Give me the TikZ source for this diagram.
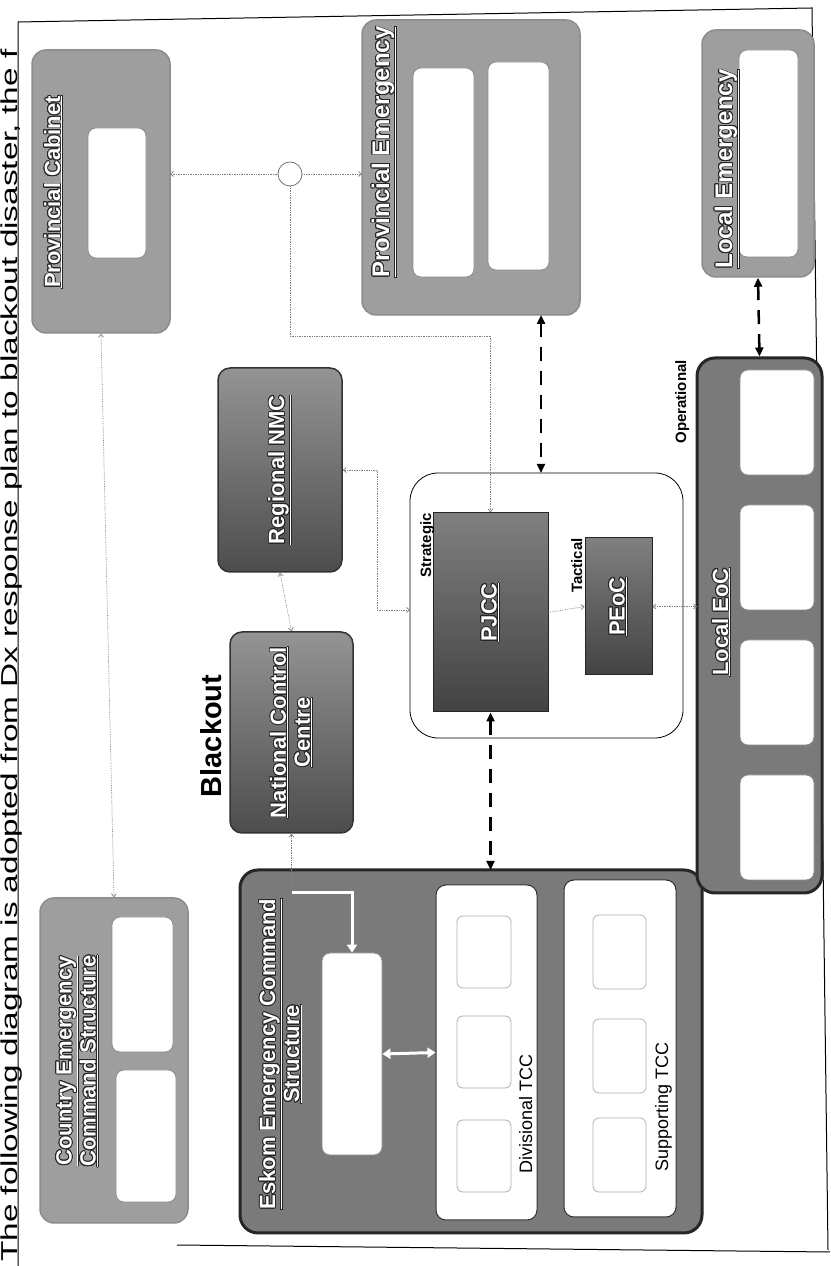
\documentclass[tikz,border=0pt]{standalone}
\usepackage{fontspec}
\setmainfont{Liberation Sans}
\usepackage{contour}
\contourlength{0.9pt}
\usetikzlibrary{arrows.meta}

\newcommand{\boxtitle}[1]{\contour{black!85}{\underline{#1}}}

\tikzset{
  dims/.style 2 args={minimum width=#1, minimum height=#2, inner sep=0pt},
  grpbox/.style={rectangle, rounded corners=14pt, draw=black!45, line width=1.5pt, fill=black!38},
  bigbox/.style={rectangle, rounded corners=18pt, draw=black!85, line width=3pt, fill=black!52},
  ctrbox/.style={rectangle, rounded corners=12pt, draw=black!80, line width=1.5pt, top color=black!42, bottom color=black!70},
  cmdbox/.style={rectangle, draw=black!85, line width=1pt, top color=black!50, bottom color=black!74},
  blankbox/.style={rectangle, rounded corners=8pt, draw=black!45, line width=0.8pt, fill=white},
  tccbox/.style={rectangle, rounded corners=10pt, draw=black!80, line width=1pt, fill=white},
  slotbox/.style={rectangle, rounded corners=6pt, draw=black!30, line width=0.8pt, fill=white},
  hub/.style={rectangle, rounded corners=28pt, draw=black, line width=0.8pt, fill=white},
  junction/.style={circle, draw=black!55, line width=0.8pt, fill=white, minimum size=24pt, inner sep=0pt},
  ttl/.style={text=white, font=\fontsize{22}{24}\selectfont\bfseries, align=center, inner sep=0pt},
  bigttl/.style={ttl, font=\fontsize{24}{26}\selectfont\bfseries},
  tier/.style={font=\fontsize{15}{17}\selectfont\bfseries, inner sep=0pt},
  tcclabel/.style={font=\fontsize{18}{20}\selectfont, inner sep=0pt},
  heading/.style={font=\fontsize{29}{32}\selectfont\bfseries, inner sep=0pt},
  caption/.style={font=\fontsize{23}{26}\selectfont, inner sep=0pt},
  frame/.style={draw=black, line width=1pt},
  link/.style={draw=black!50, line width=0.7pt, densely dotted},
  bolddash/.style={draw=black, line width=2.5pt, dash pattern=on 14pt off 10pt,
    {Triangle[length=9pt,width=8pt]}-{Triangle[length=9pt,width=8pt]}},
  whitelink/.style={draw=white, line width=3pt, -{Triangle[length=8pt,width=10pt]}},
  whitepair/.style={draw=white, line width=3pt,
    {Triangle[length=8pt,width=10pt]}-{Triangle[length=8pt,width=10pt]}}
}

\begin{document}
\begin{tikzpicture}[x=1pt, y=1pt, >={Straight Barb[length=3pt,width=5pt]}]
\begin{scope}[rotate=90, transform shape]
  \useasboundingbox (0,0) rectangle (1266,-830);

  % caption and page frame
  \node[caption, anchor=base west] (cap) at (4,-17.5)
    {\scalebox{1.45}[1]{The following diagram is adopted from Dx response plan to blackout disaster, the f}};
  \draw[frame] (0,-18) -- (1244,-18) -- (1258,-812) -- (16,-828);
  \draw[frame] (21,-177) -- (14,-830);

  % top row
  \node[grpbox, dims={325pt}{148pt}] (CECS) at (205.5,-114) {};
  \node[blankbox, dims={135pt}{61pt}] (CECSa) at (281.5,-142.5) {};
  \node[blankbox, dims={132pt}{60pt}] (CECSb) at (130,-146) {};
  \node[ttl, anchor=north] (CECSt) at (205,-56)
    {\boxtitle{Country Emergency}\\\boxtitle{Command Structure}};

  \node[grpbox, dims={283pt}{138pt}] (PC) at (1074.5,-101) {};
  \node[blankbox, dims={130pt}{58pt}] (PCin) at (1073,-117) {};
  \node[ttl, anchor=base] (PCt) at (1074,-60) {\boxtitle{Provincial Cabinet}};

  % Eskom command structure
  \node[bigbox, dims={363pt}{462pt}] (Eskom) at (214.5,-471) {};
  \node[ttl, anchor=north] (Eskomt) at (212,-259)
    {\boxtitle{Eskom Emergency Command}\\\boxtitle{Structure}};
  \node[blankbox, dims={202pt}{60pt}] (EskomIn) at (212,-352) {};
  \node[tccbox, dims={335pt}{101pt}] (Div) at (213.5,-486.5) {};
  \node[tccbox, dims={337pt}{112pt}] (Sup) at (217.5,-620) {};
  \foreach \u/\n in {314/1, 214/2, 110/3}
    \node[slotbox, dims={72pt}{54pt}] (div\n) at (\u,-484) {};
  \foreach \u/\n in {314/1, 210/2, 111/3}
    \node[slotbox, dims={74pt}{53pt}] (sup\n) at (\u,-619.5) {};
  \node[tcclabel, anchor=base] (Divt) at (152,-532) {Divisional TCC};
  \node[tcclabel, anchor=base] (Supt) at (159,-668) {Supporting TCC};

  % control centres
  \node[heading, anchor=base] (blk) at (530,-221) {Blackout};
  \node[ctrbox, dims={201pt}{123pt}] (NCC) at (533.5,-291.5) {};
  \node[ttl] (NCCt) at (NCC) {\boxtitle{National Control}\\\boxtitle{Centre}};
  \node[ctrbox, dims={204pt}{124pt}] (RNMC) at (796,-280) {};
  \node[ttl] (RNMCt) at (RNMC) {\boxtitle{Regional NMC}};

  % joint command hub
  \node[hub, dims={265pt}{273pt}] (hub) at (660.5,-546.5) {};
  \node[cmdbox, dims={199pt}{115pt}] (PJCC) at (653.5,-490.5) {};
  \node[ttl] (PJCCt) at (PJCC) {\boxtitle{PJCC}};
  \node[tier, anchor=base east] (strat) at (753,-431) {Strategic};
  \node[cmdbox, dims={137pt}{67pt}] (PEoC) at (659.5,-618.5) {};
  \node[ttl] (PEoCt) at (PEoC) {\boxtitle{PEoC}};
  \node[tier, anchor=base east] (tact) at (728,-582) {Tactical};

  % provincial emergency
  \node[grpbox, dims={295pt}{218pt}] (PE) at (1098.5,-471) {};
  \node[blankbox, dims={209pt}{61pt}] (PEa) at (1093.5,-443.5) {};
  \node[blankbox, dims={208pt}{61pt}] (PEb) at (1100,-518.5) {};
  \node[bigttl, anchor=base] (PEt) at (1114,-389) {\boxtitle{Provincial Emergency}};

  % local level
  \node[bigbox, dims={535pt}{125pt}] (LocEoC) at (640.5,-759.5) {};
  \foreach \u/\n in {843.5/1, 708.5/2, 573.5/3, 438.5/4}
    \node[blankbox, dims={105pt}{74pt}] (loc\n) at (\u,-777) {};
  \node[ttl, anchor=base] (LocEoCt) at (644,-728) {\boxtitle{Local EoC}};
  \node[tier, anchor=base east] (oper) at (906,-686) {Operational};

  \node[grpbox, dims={247pt}{112pt}] (LE) at (1112.5,-758) {};
  \node[blankbox, dims={207pt}{59pt}] (LEin) at (1112.5,-768.5) {};
  \node[bigttl, anchor=base] (LEt) at (1097,-732) {\boxtitle{Local Emergency}};

  % junction
  \node[junction] (jct) at (1092,-290) {};

  % bend points
  \coordinate (pcfoot) at (1092,-170);
  \coordinate (pehead) at (1092,-362);
  \coordinate (jA) at (930,-290);
  \coordinate (jB) at (930,-490.5);
  \coordinate (nmA) at (796,-377);
  \coordinate (nmB) at (656,-377);
  \coordinate (hubTop) at (656,-410);
  \coordinate (locTop) at (659.5,-697);
  \coordinate (wA) at (373,-291.5);
  \coordinate (wB) at (373,-352);
  \coordinate (peL) at (951,-541);
  \coordinate (hubR) at (793,-541);
  \coordinate (esR) at (396,-490.5);

  % thin dotted links
  \draw[link, <->] (CECS.east) -- (PC.west);
  \draw[link, <-] (pcfoot) -- (jct);
  \draw[link, ->] (jct) -- (pehead);
  \draw[link, ->] (jct) -- (jA) -- (jB) -- (PJCC.east);
  \draw[link, <->] (RNMC.west) -- (NCC.east);
  \draw[link, <->] (RNMC.south) -- (nmA) -- (nmB) -- (hubTop);
  \draw[link, ->] (PJCC.south) -- (PEoC.north);
  \draw[link, <->] (PEoC.south) -- (locTop);
  \draw[link, <-] (NCC.west) -- (wA);

  % white links inside Eskom
  \draw[whitelink] (wA) -- (wB) -- (EskomIn.east);
  \draw[whitepair] (EskomIn.south) -- (Div.north);

  % bold dashed links
  \draw[bolddash] (peL) -- (hubR);
  \draw[bolddash] (PJCC.west) -- (esR);
  \draw[bolddash] (LE.west) -- (LocEoC.east);
\end{scope}
\end{tikzpicture}
\end{document}
